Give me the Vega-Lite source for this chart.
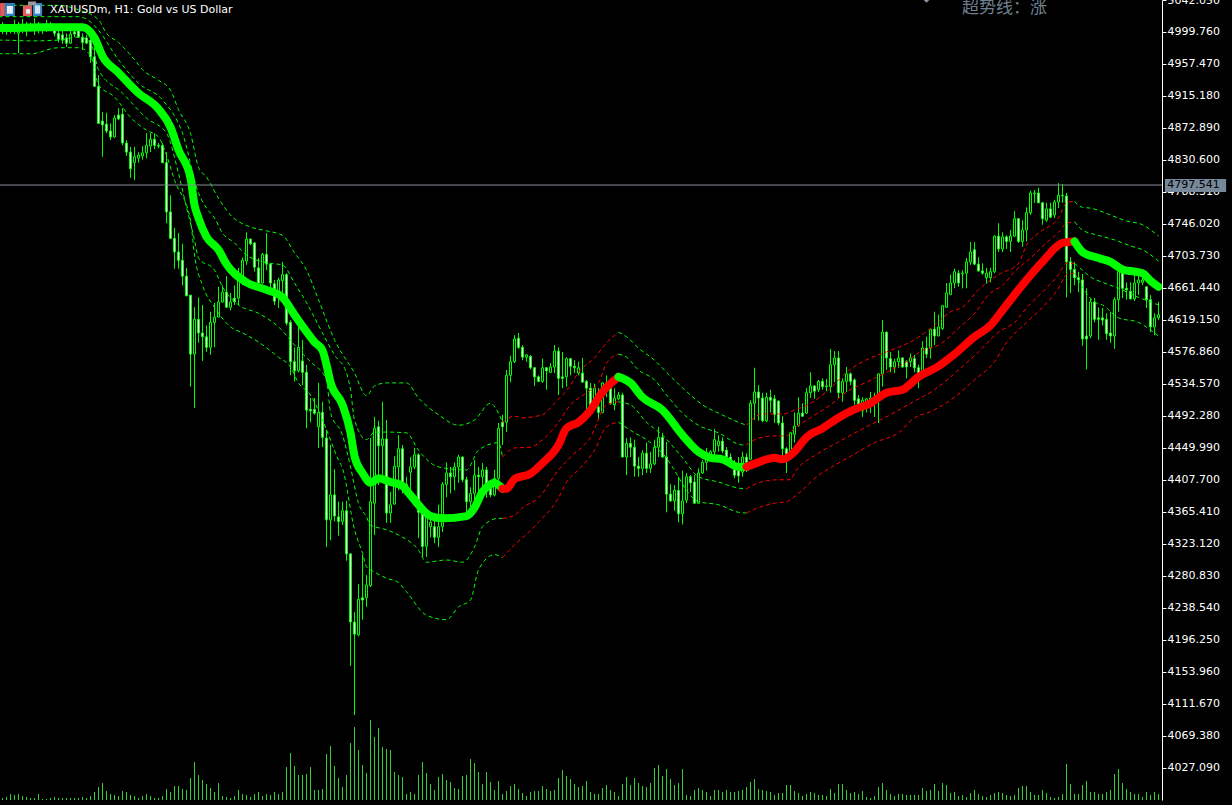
{"$schema":"https://vega.github.io/schema/vega-lite/v6.json","width":1162,"height":800,"autosize":"none","padding":{"left":0,"top":0,"right":70,"bottom":5},"background":"#000000","config":{"view":{"stroke":null},"axis":{"grid":false}},
"datasets":{"candles":[
{"i":0,"o":5002,"h":5013,"l":4997,"c":5009,"v":6},{"i":1,"o":5008,"h":5010,"l":4996,"c":5001,"v":9},{"i":2,"o":5006,"h":5009,"l":4998,"c":5002,"v":18},{"i":3,"o":5002,"h":5016,"l":4997,"c":5009,"v":15},{"i":4,"o":4998,"h":5013,"l":4972,"c":5005,"v":18},{"i":5,"o":5004,"h":5017,"l":4998,"c":5010,"v":12},{"i":6,"o":5008,"h":5013,"l":4994,"c":5001,"v":9},{"i":7,"o":5006,"h":5012,"l":5000,"c":5002,"v":6},{"i":8,"o":5008,"h":5018,"l":4996,"c":5001,"v":6},{"i":9,"o":5008,"h":5013,"l":4998,"c":5004,"v":18},
{"i":10,"o":5006,"h":5010,"l":4997,"c":5002,"v":3},{"i":11,"o":5009,"h":5016,"l":5000,"c":5002,"v":3},{"i":12,"o":5008,"h":5013,"l":5001,"c":5004,"v":6},{"i":13,"o":5004,"h":5009,"l":4994,"c":4998,"v":9},{"i":14,"o":4998,"h":5005,"l":4986,"c":4990,"v":6},{"i":15,"o":4996,"h":5002,"l":4984,"c":4989,"v":6},{"i":16,"o":4992,"h":4998,"l":4980,"c":4985,"v":6},{"i":17,"o":4985,"h":5002,"l":4984,"c":4997,"v":6},{"i":18,"o":5000,"h":5005,"l":4993,"c":4997,"v":6},{"i":19,"o":5002,"h":5008,"l":4992,"c":4993,"v":6},
{"i":20,"o":4993,"h":4998,"l":4976,"c":4986,"v":9},{"i":21,"o":4992,"h":4996,"l":4984,"c":4985,"v":6},{"i":22,"o":4989,"h":4992,"l":4959,"c":4967,"v":12},{"i":23,"o":4967,"h":4979,"l":4928,"c":4928,"v":24},{"i":24,"o":4928,"h":4943,"l":4879,"c":4879,"v":39},{"i":25,"o":4882,"h":4894,"l":4835,"c":4877,"v":51},{"i":26,"o":4878,"h":4893,"l":4866,"c":4869,"v":27},{"i":27,"o":4869,"h":4879,"l":4857,"c":4861,"v":18},{"i":28,"o":4861,"h":4890,"l":4860,"c":4886,"v":15},{"i":29,"o":4890,"h":4899,"l":4883,"c":4885,"v":12},
{"i":30,"o":4891,"h":4899,"l":4850,"c":4853,"v":27},{"i":31,"o":4853,"h":4857,"l":4836,"c":4841,"v":24},{"i":32,"o":4841,"h":4848,"l":4807,"c":4819,"v":15},{"i":33,"o":4827,"h":4848,"l":4804,"c":4835,"v":12},{"i":34,"o":4833,"h":4841,"l":4827,"c":4837,"v":6},{"i":35,"o":4836,"h":4849,"l":4831,"c":4840,"v":12},{"i":36,"o":4840,"h":4866,"l":4833,"c":4850,"v":18},{"i":37,"o":4849,"h":4866,"l":4841,"c":4858,"v":12},{"i":38,"o":4858,"h":4866,"l":4845,"c":4850,"v":6},{"i":39,"o":4850,"h":4853,"l":4846,"c":4849,"v":6},
{"i":40,"o":4850,"h":4853,"l":4827,"c":4827,"v":12},{"i":41,"o":4827,"h":4841,"l":4747,"c":4762,"v":33},{"i":42,"o":4762,"h":4784,"l":4727,"c":4727,"v":24},{"i":43,"o":4727,"h":4741,"l":4687,"c":4709,"v":42},{"i":44,"o":4709,"h":4734,"l":4687,"c":4698,"v":42},{"i":45,"o":4698,"h":4720,"l":4665,"c":4677,"v":33},{"i":46,"o":4677,"h":4688,"l":4651,"c":4651,"v":30},{"i":47,"o":4652,"h":4652,"l":4531,"c":4574,"v":66},{"i":48,"o":4574,"h":4636,"l":4503,"c":4620,"v":114},{"i":49,"o":4620,"h":4649,"l":4589,"c":4602,"v":75},
{"i":50,"o":4602,"h":4639,"l":4565,"c":4597,"v":60},{"i":51,"o":4597,"h":4612,"l":4577,"c":4583,"v":48},{"i":52,"o":4583,"h":4630,"l":4573,"c":4616,"v":36},{"i":53,"o":4616,"h":4642,"l":4583,"c":4623,"v":24},{"i":54,"o":4623,"h":4663,"l":4623,"c":4643,"v":51},{"i":55,"o":4643,"h":4665,"l":4642,"c":4656,"v":12},{"i":56,"o":4656,"h":4677,"l":4635,"c":4636,"v":9},{"i":57,"o":4636,"h":4655,"l":4632,"c":4643,"v":6},{"i":58,"o":4648,"h":4665,"l":4639,"c":4643,"v":12},{"i":59,"o":4648,"h":4688,"l":4639,"c":4675,"v":30},
{"i":60,"o":4668,"h":4702,"l":4665,"c":4698,"v":18},{"i":61,"o":4697,"h":4735,"l":4692,"c":4726,"v":15},{"i":62,"o":4726,"h":4727,"l":4718,"c":4720,"v":9},{"i":63,"o":4721,"h":4722,"l":4683,"c":4689,"v":18},{"i":64,"o":4688,"h":4701,"l":4667,"c":4668,"v":24},{"i":65,"o":4668,"h":4708,"l":4667,"c":4706,"v":12},{"i":66,"o":4706,"h":4734,"l":4685,"c":4693,"v":18},{"i":67,"o":4693,"h":4694,"l":4655,"c":4668,"v":15},{"i":68,"o":4667,"h":4672,"l":4639,"c":4644,"v":24},{"i":69,"o":4653,"h":4675,"l":4635,"c":4672,"v":18},
{"i":70,"o":4671,"h":4696,"l":4655,"c":4679,"v":24},{"i":71,"o":4679,"h":4681,"l":4612,"c":4615,"v":99},{"i":72,"o":4616,"h":4619,"l":4546,"c":4564,"v":141},{"i":73,"o":4564,"h":4583,"l":4538,"c":4552,"v":102},{"i":74,"o":4552,"h":4610,"l":4550,"c":4583,"v":75},{"i":75,"o":4565,"h":4593,"l":4533,"c":4550,"v":75},{"i":76,"o":4550,"h":4560,"l":4476,"c":4500,"v":78},{"i":77,"o":4501,"h":4516,"l":4484,"c":4499,"v":99},{"i":78,"o":4501,"h":4516,"l":4494,"c":4496,"v":30},{"i":79,"o":4478,"h":4536,"l":4450,"c":4497,"v":30},
{"i":80,"o":4497,"h":4511,"l":4451,"c":4464,"v":33},{"i":81,"o":4463,"h":4474,"l":4319,"c":4355,"v":138},{"i":82,"o":4355,"h":4454,"l":4328,"c":4388,"v":162},{"i":83,"o":4388,"h":4422,"l":4353,"c":4360,"v":102},{"i":84,"o":4359,"h":4379,"l":4334,"c":4353,"v":66},{"i":85,"o":4353,"h":4379,"l":4348,"c":4367,"v":39},{"i":86,"o":4367,"h":4380,"l":4301,"c":4310,"v":75},{"i":87,"o":4310,"h":4311,"l":4162,"c":4220,"v":171},{"i":88,"o":4220,"h":4233,"l":4097,"c":4204,"v":219},{"i":89,"o":4203,"h":4270,"l":4201,"c":4250,"v":150},
{"i":90,"o":4252,"h":4309,"l":4223,"c":4249,"v":105},{"i":91,"o":4252,"h":4282,"l":4240,"c":4269,"v":81},{"i":92,"o":4268,"h":4463,"l":4266,"c":4379,"v":240},{"i":93,"o":4377,"h":4491,"l":4335,"c":4476,"v":189},{"i":94,"o":4478,"h":4486,"l":4401,"c":4453,"v":216},{"i":95,"o":4453,"h":4511,"l":4404,"c":4462,"v":159},{"i":96,"o":4462,"h":4487,"l":4351,"c":4364,"v":153},{"i":97,"o":4364,"h":4392,"l":4351,"c":4375,"v":150},{"i":98,"o":4376,"h":4439,"l":4375,"c":4426,"v":84},{"i":99,"o":4425,"h":4467,"l":4394,"c":4449,"v":75},
{"i":100,"o":4449,"h":4454,"l":4390,"c":4405,"v":69},{"i":101,"o":4402,"h":4412,"l":4388,"c":4398,"v":18},{"i":102,"o":4418,"h":4438,"l":4390,"c":4425,"v":24},{"i":103,"o":4425,"h":4450,"l":4422,"c":4441,"v":18},{"i":104,"o":4441,"h":4443,"l":4331,"c":4365,"v":75},{"i":105,"o":4364,"h":4368,"l":4306,"c":4320,"v":114},{"i":106,"o":4320,"h":4364,"l":4306,"c":4359,"v":81},{"i":107,"o":4346,"h":4359,"l":4332,"c":4352,"v":48},{"i":108,"o":4346,"h":4357,"l":4324,"c":4332,"v":30},{"i":109,"o":4332,"h":4375,"l":4319,"c":4346,"v":69},
{"i":110,"o":4346,"h":4405,"l":4339,"c":4402,"v":78},{"i":111,"o":4402,"h":4431,"l":4385,"c":4417,"v":60},{"i":112,"o":4417,"h":4425,"l":4390,"c":4412,"v":54},{"i":113,"o":4412,"h":4431,"l":4394,"c":4425,"v":36},{"i":114,"o":4425,"h":4441,"l":4404,"c":4438,"v":33},{"i":115,"o":4438,"h":4439,"l":4405,"c":4408,"v":72},{"i":116,"o":4408,"h":4412,"l":4365,"c":4379,"v":75},{"i":117,"o":4379,"h":4398,"l":4365,"c":4390,"v":123},{"i":118,"o":4390,"h":4434,"l":4368,"c":4414,"v":111},{"i":119,"o":4414,"h":4425,"l":4390,"c":4412,"v":84},
{"i":120,"o":4412,"h":4430,"l":4394,"c":4421,"v":48},{"i":121,"o":4421,"h":4425,"l":4384,"c":4398,"v":84},{"i":122,"o":4398,"h":4404,"l":4385,"c":4388,"v":54},{"i":123,"o":4388,"h":4421,"l":4386,"c":4410,"v":30},{"i":124,"o":4410,"h":4483,"l":4404,"c":4476,"v":57},{"i":125,"o":4484,"h":4494,"l":4454,"c":4478,"v":18},{"i":126,"o":4484,"h":4553,"l":4471,"c":4546,"v":27},{"i":127,"o":4546,"h":4572,"l":4537,"c":4564,"v":42},{"i":128,"o":4564,"h":4599,"l":4562,"c":4594,"v":48},{"i":129,"o":4595,"h":4602,"l":4581,"c":4583,"v":33},
{"i":130,"o":4583,"h":4586,"l":4566,"c":4570,"v":21},{"i":131,"o":4570,"h":4574,"l":4564,"c":4573,"v":12},{"i":132,"o":4571,"h":4573,"l":4554,"c":4556,"v":24},{"i":133,"o":4556,"h":4557,"l":4532,"c":4544,"v":27},{"i":134,"o":4544,"h":4546,"l":4537,"c":4538,"v":27},{"i":135,"o":4538,"h":4568,"l":4536,"c":4556,"v":42},{"i":136,"o":4556,"h":4557,"l":4527,"c":4552,"v":33},{"i":137,"o":4550,"h":4562,"l":4549,"c":4557,"v":27},{"i":138,"o":4557,"h":4586,"l":4549,"c":4578,"v":30},{"i":139,"o":4578,"h":4583,"l":4520,"c":4542,"v":66},
{"i":140,"o":4544,"h":4577,"l":4529,"c":4542,"v":90},{"i":141,"o":4544,"h":4570,"l":4531,"c":4568,"v":72},{"i":142,"o":4568,"h":4569,"l":4546,"c":4558,"v":63},{"i":143,"o":4558,"h":4566,"l":4549,"c":4556,"v":48},{"i":144,"o":4549,"h":4564,"l":4546,"c":4556,"v":39},{"i":145,"o":4549,"h":4569,"l":4537,"c":4537,"v":42},{"i":146,"o":4538,"h":4540,"l":4499,"c":4529,"v":57},{"i":147,"o":4529,"h":4536,"l":4500,"c":4507,"v":24},{"i":148,"o":4507,"h":4535,"l":4505,"c":4529,"v":18},{"i":149,"o":4504,"h":4529,"l":4487,"c":4497,"v":18},
{"i":150,"o":4497,"h":4537,"l":4496,"c":4536,"v":36},{"i":151,"o":4536,"h":4546,"l":4517,"c":4527,"v":45},{"i":152,"o":4529,"h":4537,"l":4507,"c":4509,"v":30},{"i":153,"o":4507,"h":4529,"l":4500,"c":4516,"v":24},{"i":154,"o":4515,"h":4524,"l":4513,"c":4520,"v":12},{"i":155,"o":4520,"h":4523,"l":4438,"c":4438,"v":48},{"i":156,"o":4438,"h":4463,"l":4414,"c":4456,"v":69},{"i":157,"o":4456,"h":4464,"l":4438,"c":4451,"v":45},{"i":158,"o":4451,"h":4461,"l":4412,"c":4426,"v":66},{"i":159,"o":4426,"h":4438,"l":4412,"c":4423,"v":51},
{"i":160,"o":4423,"h":4447,"l":4414,"c":4443,"v":42},{"i":161,"o":4443,"h":4457,"l":4417,"c":4423,"v":39},{"i":162,"o":4423,"h":4445,"l":4417,"c":4429,"v":51},{"i":163,"o":4429,"h":4461,"l":4427,"c":4451,"v":96},{"i":164,"o":4451,"h":4478,"l":4438,"c":4464,"v":105},{"i":165,"o":4464,"h":4470,"l":4437,"c":4438,"v":72},{"i":166,"o":4438,"h":4458,"l":4365,"c":4389,"v":93},{"i":167,"o":4389,"h":4402,"l":4379,"c":4380,"v":63},{"i":168,"o":4380,"h":4401,"l":4367,"c":4394,"v":45},{"i":169,"o":4394,"h":4412,"l":4352,"c":4363,"v":51},
{"i":170,"o":4363,"h":4420,"l":4349,"c":4380,"v":93},{"i":171,"o":4381,"h":4417,"l":4377,"c":4412,"v":15},{"i":172,"o":4412,"h":4414,"l":4392,"c":4404,"v":12},{"i":173,"o":4405,"h":4414,"l":4376,"c":4377,"v":30},{"i":174,"o":4377,"h":4423,"l":4376,"c":4417,"v":36},{"i":175,"o":4417,"h":4434,"l":4416,"c":4431,"v":30},{"i":176,"o":4431,"h":4450,"l":4420,"c":4443,"v":24},{"i":177,"o":4441,"h":4447,"l":4437,"c":4445,"v":12},{"i":178,"o":4445,"h":4475,"l":4437,"c":4461,"v":30},{"i":179,"o":4453,"h":4467,"l":4445,"c":4459,"v":30},
{"i":180,"o":4459,"h":4464,"l":4443,"c":4446,"v":24},{"i":181,"o":4447,"h":4451,"l":4434,"c":4438,"v":30},{"i":182,"o":4438,"h":4443,"l":4425,"c":4427,"v":24},{"i":183,"o":4422,"h":4434,"l":4410,"c":4414,"v":24},{"i":184,"o":4420,"h":4438,"l":4404,"c":4413,"v":27},{"i":185,"o":4418,"h":4445,"l":4412,"c":4438,"v":30},{"i":186,"o":4438,"h":4443,"l":4418,"c":4431,"v":39},{"i":187,"o":4435,"h":4513,"l":4434,"c":4509,"v":54},{"i":188,"o":4509,"h":4556,"l":4487,"c":4524,"v":63},{"i":189,"o":4524,"h":4533,"l":4486,"c":4516,"v":33},
{"i":190,"o":4516,"h":4523,"l":4484,"c":4486,"v":30},{"i":191,"o":4486,"h":4523,"l":4484,"c":4517,"v":27},{"i":192,"o":4517,"h":4527,"l":4497,"c":4513,"v":24},{"i":193,"o":4515,"h":4520,"l":4483,"c":4494,"v":15},{"i":194,"o":4512,"h":4513,"l":4480,"c":4483,"v":21},{"i":195,"o":4483,"h":4492,"l":4434,"c":4449,"v":21},{"i":196,"o":4449,"h":4451,"l":4417,"c":4442,"v":45},{"i":197,"o":4437,"h":4471,"l":4434,"c":4470,"v":45},{"i":198,"o":4468,"h":4497,"l":4457,"c":4479,"v":27},{"i":199,"o":4480,"h":4517,"l":4478,"c":4496,"v":21},
{"i":200,"o":4496,"h":4509,"l":4491,"c":4492,"v":12},{"i":201,"o":4496,"h":4529,"l":4495,"c":4523,"v":18},{"i":202,"o":4523,"h":4550,"l":4516,"c":4532,"v":24},{"i":203,"o":4532,"h":4533,"l":4515,"c":4525,"v":21},{"i":204,"o":4527,"h":4540,"l":4524,"c":4538,"v":15},{"i":205,"o":4538,"h":4542,"l":4527,"c":4531,"v":15},{"i":206,"o":4531,"h":4541,"l":4525,"c":4532,"v":12},{"i":207,"o":4531,"h":4581,"l":4523,"c":4560,"v":33},{"i":208,"o":4560,"h":4578,"l":4537,"c":4569,"v":21},{"i":209,"o":4569,"h":4578,"l":4516,"c":4523,"v":48},
{"i":210,"o":4523,"h":4542,"l":4511,"c":4538,"v":48},{"i":211,"o":4538,"h":4557,"l":4524,"c":4548,"v":30},{"i":212,"o":4548,"h":4550,"l":4533,"c":4538,"v":21},{"i":213,"o":4540,"h":4542,"l":4507,"c":4513,"v":24},{"i":214,"o":4515,"h":4520,"l":4500,"c":4508,"v":18},{"i":215,"o":4499,"h":4517,"l":4491,"c":4513,"v":27},{"i":216,"o":4504,"h":4516,"l":4497,"c":4515,"v":9},{"i":217,"o":4507,"h":4524,"l":4496,"c":4516,"v":6},{"i":218,"o":4509,"h":4523,"l":4491,"c":4516,"v":12},{"i":219,"o":4513,"h":4548,"l":4483,"c":4548,"v":39},
{"i":220,"o":4548,"h":4619,"l":4531,"c":4603,"v":51},{"i":221,"o":4603,"h":4604,"l":4553,"c":4569,"v":30},{"i":222,"o":4568,"h":4577,"l":4550,"c":4557,"v":18},{"i":223,"o":4557,"h":4568,"l":4549,"c":4564,"v":12},{"i":224,"o":4564,"h":4579,"l":4556,"c":4569,"v":18},{"i":225,"o":4569,"h":4570,"l":4556,"c":4557,"v":18},{"i":226,"o":4564,"h":4566,"l":4542,"c":4557,"v":15},{"i":227,"o":4564,"h":4575,"l":4557,"c":4569,"v":15},{"i":228,"o":4568,"h":4573,"l":4550,"c":4556,"v":15},{"i":229,"o":4556,"h":4560,"l":4529,"c":4544,"v":15},
{"i":230,"o":4550,"h":4591,"l":4550,"c":4582,"v":36},{"i":231,"o":4582,"h":4597,"l":4569,"c":4574,"v":27},{"i":232,"o":4582,"h":4608,"l":4568,"c":4607,"v":30},{"i":233,"o":4607,"h":4630,"l":4586,"c":4598,"v":48},{"i":234,"o":4598,"h":4626,"l":4598,"c":4610,"v":27},{"i":235,"o":4608,"h":4639,"l":4606,"c":4638,"v":51},{"i":236,"o":4636,"h":4668,"l":4635,"c":4655,"v":45},{"i":237,"o":4653,"h":4679,"l":4652,"c":4668,"v":21},{"i":238,"o":4668,"h":4687,"l":4661,"c":4683,"v":24},{"i":239,"o":4681,"h":4685,"l":4663,"c":4668,"v":12},
{"i":240,"o":4680,"h":4685,"l":4661,"c":4681,"v":15},{"i":241,"o":4681,"h":4701,"l":4661,"c":4696,"v":9},{"i":242,"o":4696,"h":4722,"l":4692,"c":4709,"v":21},{"i":243,"o":4712,"h":4722,"l":4692,"c":4693,"v":30},{"i":244,"o":4693,"h":4702,"l":4683,"c":4684,"v":18},{"i":245,"o":4684,"h":4694,"l":4679,"c":4681,"v":12},{"i":246,"o":4675,"h":4688,"l":4667,"c":4681,"v":9},{"i":247,"o":4675,"h":4688,"l":4669,"c":4683,"v":15},{"i":248,"o":4683,"h":4731,"l":4681,"c":4730,"v":21},{"i":249,"o":4730,"h":4747,"l":4709,"c":4713,"v":24},
{"i":250,"o":4713,"h":4735,"l":4709,"c":4729,"v":21},{"i":251,"o":4729,"h":4731,"l":4713,"c":4723,"v":15},{"i":252,"o":4723,"h":4738,"l":4709,"c":4730,"v":12},{"i":253,"o":4730,"h":4763,"l":4729,"c":4753,"v":15},{"i":254,"o":4753,"h":4754,"l":4721,"c":4723,"v":36},{"i":255,"o":4723,"h":4751,"l":4716,"c":4738,"v":42},{"i":256,"o":4738,"h":4768,"l":4723,"c":4761,"v":42},{"i":257,"o":4761,"h":4790,"l":4758,"c":4787,"v":24},{"i":258,"o":4786,"h":4791,"l":4774,"c":4787,"v":15},{"i":259,"o":4787,"h":4794,"l":4774,"c":4774,"v":15},
{"i":260,"o":4774,"h":4775,"l":4745,"c":4753,"v":30},{"i":261,"o":4751,"h":4774,"l":4749,"c":4766,"v":21},{"i":262,"o":4766,"h":4774,"l":4754,"c":4755,"v":9},{"i":263,"o":4758,"h":4778,"l":4754,"c":4775,"v":6},{"i":264,"o":4775,"h":4800,"l":4767,"c":4784,"v":9},{"i":265,"o":4783,"h":4799,"l":4774,"c":4784,"v":18},{"i":266,"o":4783,"h":4787,"l":4649,"c":4696,"v":108},{"i":267,"o":4696,"h":4702,"l":4655,"c":4686,"v":48},{"i":268,"o":4686,"h":4696,"l":4665,"c":4675,"v":18},{"i":269,"o":4675,"h":4683,"l":4656,"c":4672,"v":18},
{"i":270,"o":4672,"h":4680,"l":4585,"c":4594,"v":45},{"i":271,"o":4598,"h":4661,"l":4554,"c":4594,"v":57},{"i":272,"o":4598,"h":4648,"l":4595,"c":4643,"v":24},{"i":273,"o":4643,"h":4648,"l":4616,"c":4620,"v":24},{"i":274,"o":4622,"h":4636,"l":4593,"c":4620,"v":18},{"i":275,"o":4622,"h":4635,"l":4612,"c":4619,"v":18},{"i":276,"o":4620,"h":4628,"l":4593,"c":4601,"v":24},{"i":277,"o":4602,"h":4630,"l":4589,"c":4598,"v":30},{"i":278,"o":4598,"h":4649,"l":4581,"c":4646,"v":78},{"i":279,"o":4646,"h":4692,"l":4630,"c":4683,"v":93},
{"i":280,"o":4683,"h":4685,"l":4648,"c":4661,"v":51},{"i":281,"o":4661,"h":4669,"l":4646,"c":4659,"v":33},{"i":282,"o":4657,"h":4669,"l":4646,"c":4647,"v":24},{"i":283,"o":4647,"h":4681,"l":4644,"c":4668,"v":18},{"i":284,"o":4668,"h":4683,"l":4652,"c":4672,"v":18},{"i":285,"o":4669,"h":4679,"l":4665,"c":4672,"v":9},{"i":286,"o":4663,"h":4664,"l":4635,"c":4646,"v":24},{"i":287,"o":4646,"h":4652,"l":4603,"c":4610,"v":15},{"i":288,"o":4610,"h":4628,"l":4599,"c":4622,"v":24},{"i":289,"o":4622,"h":4643,"l":4619,"c":4626,"v":18}
],
"mid":[
{"s":1,"i":-1,"p":5005},{"s":1,"i":0,"p":5005},{"s":1,"i":10,"p":5006},{"s":1,"i":20,"p":5006},{"s":1,"i":23,"p":4992},{"s":1,"i":25,"p":4968},{"s":1,"i":29,"p":4946},{"s":1,"i":34,"p":4919},{"s":1,"i":39,"p":4898},{"s":1,"i":42,"p":4874},{"s":1,"i":44,"p":4844},{"s":1,"i":47,"p":4807},{"s":1,"i":48,"p":4771},{"s":1,"i":49,"p":4754},{"s":1,"i":51,"p":4729},{"s":1,"i":54,"p":4712},{"s":1,"i":56,"p":4693},{"s":1,"i":61,"p":4669},{"s":1,"i":66,"p":4659},{"s":1,"i":70,"p":4649},{"s":1,"i":73,"p":4626},{"s":1,"i":75,"p":4611},{"s":1,"i":78,"p":4590},{"s":1,"i":80,"p":4579},{"s":1,"i":81,"p":4560},{"s":1,"i":82,"p":4537},{"s":1,"i":85,"p":4507},{"s":1,"i":87,"p":4470},{"s":1,"i":88,"p":4439},{"s":1,"i":90,"p":4417},{"s":1,"i":92,"p":4404},{"s":1,"i":94,"p":4410},{"s":1,"i":97,"p":4405},{"s":1,"i":100,"p":4400},{"s":1,"i":101,"p":4394},{"s":1,"i":103,"p":4381},{"s":1,"i":107,"p":4360},{"s":1,"i":110,"p":4357},{"s":1,"i":116,"p":4360},{"s":1,"i":118,"p":4371},{"s":1,"i":120,"p":4392},{"s":1,"i":122,"p":4402},{"s":1,"i":123,"p":4404},{"s":1,"i":124,"p":4401},{"s":1,"i":125,"p":4396},
{"s":2,"i":125,"p":4396},{"s":2,"i":126,"p":4396},{"s":2,"i":128,"p":4409},{"s":2,"i":132,"p":4416},{"s":2,"i":135,"p":4430},{"s":2,"i":139,"p":4454},{"s":2,"i":141,"p":4476},{"s":2,"i":144,"p":4484},{"s":2,"i":147,"p":4500},{"s":2,"i":150,"p":4524},{"s":2,"i":154,"p":4544},
{"s":3,"i":154,"p":4544},{"s":3,"i":157,"p":4536},{"s":3,"i":160,"p":4517},{"s":3,"i":165,"p":4500},{"s":3,"i":170,"p":4467},{"s":3,"i":174,"p":4445},{"s":3,"i":177,"p":4437},{"s":3,"i":180,"p":4435},{"s":3,"i":184,"p":4425},{"s":3,"i":186,"p":4425},
{"s":4,"i":186,"p":4425},{"s":4,"i":189,"p":4431},{"s":4,"i":193,"p":4437},{"s":4,"i":195,"p":4435},{"s":4,"i":198,"p":4445},{"s":4,"i":200,"p":4458},{"s":4,"i":201,"p":4464},{"s":4,"i":205,"p":4476},{"s":4,"i":209,"p":4490},{"s":4,"i":213,"p":4501},{"s":4,"i":217,"p":4509},{"s":4,"i":221,"p":4523},{"s":4,"i":225,"p":4527},{"s":4,"i":229,"p":4544},{"s":4,"i":234,"p":4558},{"s":4,"i":238,"p":4574},{"s":4,"i":243,"p":4597},{"s":4,"i":247,"p":4612},{"s":4,"i":250,"p":4632},{"s":4,"i":254,"p":4659},{"s":4,"i":260,"p":4696},{"s":4,"i":265,"p":4721},{"s":4,"i":268,"p":4723},
{"s":5,"i":268,"p":4723},{"s":5,"i":270,"p":4709},{"s":5,"i":274,"p":4701},{"s":5,"i":277,"p":4696},{"s":5,"i":280,"p":4686},{"s":5,"i":285,"p":4681},{"s":5,"i":287,"p":4671},{"s":5,"i":289,"p":4663}
],
"bands":[
{"b":"a","s":1,"i":-1,"p":5035},{"b":"a","s":1,"i":0,"p":5035},{"b":"a","s":1,"i":14,"p":5035},{"b":"a","s":1,"i":19,"p":5029},{"b":"a","s":1,"i":24,"p":5016},{"b":"a","s":1,"i":26,"p":4998},{"b":"a","s":1,"i":29,"p":4986},{"b":"a","s":1,"i":33,"p":4963},{"b":"a","s":1,"i":35,"p":4950},{"b":"a","s":1,"i":39,"p":4936},{"b":"a","s":1,"i":42,"p":4923},{"b":"a","s":1,"i":44,"p":4897},{"b":"a","s":1,"i":47,"p":4866},{"b":"a","s":1,"i":49,"p":4821},{"b":"a","s":1,"i":51,"p":4808},{"b":"a","s":1,"i":54,"p":4780},{"b":"a","s":1,"i":57,"p":4758},{"b":"a","s":1,"i":62,"p":4742},{"b":"a","s":1,"i":66,"p":4737},{"b":"a","s":1,"i":70,"p":4731},{"b":"a","s":1,"i":73,"p":4708},{"b":"a","s":1,"i":76,"p":4685},{"b":"a","s":1,"i":79,"p":4646},{"b":"a","s":1,"i":83,"p":4593},{"b":"a","s":1,"i":88,"p":4549},{"b":"a","s":1,"i":91,"p":4519},{"b":"a","s":1,"i":93,"p":4532},{"b":"a","s":1,"i":96,"p":4536},{"b":"a","s":1,"i":101,"p":4536},{"b":"a","s":1,"i":104,"p":4516},{"b":"a","s":1,"i":109,"p":4494},{"b":"a","s":1,"i":114,"p":4480},{"b":"a","s":1,"i":118,"p":4487},{"b":"a","s":1,"i":122,"p":4509},{"b":"a","s":1,"i":124,"p":4496},{"b":"a","s":1,"i":125,"p":4484},
{"b":"a","s":2,"i":125,"p":4484},{"b":"a","s":2,"i":128,"p":4492},{"b":"a","s":2,"i":130,"p":4490},{"b":"a","s":2,"i":135,"p":4494},{"b":"a","s":2,"i":138,"p":4509},{"b":"a","s":2,"i":142,"p":4533},{"b":"a","s":2,"i":144,"p":4550},{"b":"a","s":2,"i":148,"p":4569},{"b":"a","s":2,"i":151,"p":4589},{"b":"a","s":2,"i":154,"p":4603},
{"b":"a","s":3,"i":154,"p":4603},{"b":"a","s":3,"i":156,"p":4597},{"b":"a","s":3,"i":159,"p":4582},{"b":"a","s":3,"i":163,"p":4566},{"b":"a","s":3,"i":166,"p":4550},{"b":"a","s":3,"i":172,"p":4520},{"b":"a","s":3,"i":175,"p":4507},{"b":"a","s":3,"i":179,"p":4496},{"b":"a","s":3,"i":184,"p":4484},{"b":"a","s":3,"i":186,"p":4480},
{"b":"a","s":4,"i":186,"p":4480},{"b":"a","s":4,"i":190,"p":4495},{"b":"a","s":4,"i":195,"p":4495},{"b":"a","s":4,"i":198,"p":4500},{"b":"a","s":4,"i":202,"p":4509},{"b":"a","s":4,"i":207,"p":4529},{"b":"a","s":4,"i":211,"p":4550},{"b":"a","s":4,"i":217,"p":4569},{"b":"a","s":4,"i":221,"p":4577},{"b":"a","s":4,"i":228,"p":4593},{"b":"a","s":4,"i":233,"p":4612},{"b":"a","s":4,"i":237,"p":4630},{"b":"a","s":4,"i":240,"p":4636},{"b":"a","s":4,"i":244,"p":4659},{"b":"a","s":4,"i":249,"p":4679},{"b":"a","s":4,"i":254,"p":4694},{"b":"a","s":4,"i":256,"p":4718},{"b":"a","s":4,"i":259,"p":4734},{"b":"a","s":4,"i":264,"p":4754},{"b":"a","s":4,"i":266,"p":4774},{"b":"a","s":4,"i":268,"p":4776},
{"b":"a","s":5,"i":268,"p":4776},{"b":"a","s":5,"i":270,"p":4768},{"b":"a","s":5,"i":272,"p":4767},{"b":"a","s":5,"i":276,"p":4760},{"b":"a","s":5,"i":281,"p":4750},{"b":"a","s":5,"i":285,"p":4745},{"b":"a","s":5,"i":289,"p":4730},
{"b":"b","s":1,"i":-1,"p":5020},{"b":"b","s":1,"i":0,"p":5020},{"b":"b","s":1,"i":19,"p":5020},{"b":"b","s":1,"i":22,"p":5013},{"b":"b","s":1,"i":24,"p":5002},{"b":"b","s":1,"i":29,"p":4963},{"b":"b","s":1,"i":34,"p":4932},{"b":"b","s":1,"i":40,"p":4910},{"b":"b","s":1,"i":45,"p":4866},{"b":"b","s":1,"i":49,"p":4787},{"b":"b","s":1,"i":51,"p":4767},{"b":"b","s":1,"i":53,"p":4754},{"b":"b","s":1,"i":55,"p":4734},{"b":"b","s":1,"i":58,"p":4721},{"b":"b","s":1,"i":61,"p":4705},{"b":"b","s":1,"i":67,"p":4694},{"b":"b","s":1,"i":70,"p":4692},{"b":"b","s":1,"i":73,"p":4668},{"b":"b","s":1,"i":76,"p":4642},{"b":"b","s":1,"i":79,"p":4612},{"b":"b","s":1,"i":83,"p":4573},{"b":"b","s":1,"i":86,"p":4549},{"b":"b","s":1,"i":87,"p":4527},{"b":"b","s":1,"i":88,"p":4487},{"b":"b","s":1,"i":91,"p":4461},{"b":"b","s":1,"i":93,"p":4471},{"b":"b","s":1,"i":96,"p":4471},{"b":"b","s":1,"i":101,"p":4470},{"b":"b","s":1,"i":104,"p":4447},{"b":"b","s":1,"i":108,"p":4427},{"b":"b","s":1,"i":111,"p":4423},{"b":"b","s":1,"i":116,"p":4421},{"b":"b","s":1,"i":119,"p":4447},{"b":"b","s":1,"i":124,"p":4457},{"b":"b","s":1,"i":125,"p":4438},
{"b":"b","s":2,"i":125,"p":4438},{"b":"b","s":2,"i":128,"p":4450},{"b":"b","s":2,"i":132,"p":4451},{"b":"b","s":2,"i":135,"p":4461},{"b":"b","s":2,"i":139,"p":4484},{"b":"b","s":2,"i":142,"p":4507},{"b":"b","s":2,"i":146,"p":4523},{"b":"b","s":2,"i":149,"p":4536},{"b":"b","s":2,"i":151,"p":4562},{"b":"b","s":2,"i":154,"p":4574},
{"b":"b","s":3,"i":154,"p":4574},{"b":"b","s":3,"i":156,"p":4570},{"b":"b","s":3,"i":159,"p":4553},{"b":"b","s":3,"i":163,"p":4540},{"b":"b","s":3,"i":166,"p":4520},{"b":"b","s":3,"i":170,"p":4496},{"b":"b","s":3,"i":174,"p":4480},{"b":"b","s":3,"i":179,"p":4470},{"b":"b","s":3,"i":185,"p":4454},{"b":"b","s":3,"i":186,"p":4454},
{"b":"b","s":4,"i":186,"p":4454},{"b":"b","s":4,"i":189,"p":4463},{"b":"b","s":4,"i":193,"p":4466},{"b":"b","s":4,"i":196,"p":4466},{"b":"b","s":4,"i":198,"p":4476},{"b":"b","s":4,"i":202,"p":4490},{"b":"b","s":4,"i":207,"p":4507},{"b":"b","s":4,"i":211,"p":4524},{"b":"b","s":4,"i":216,"p":4537},{"b":"b","s":4,"i":221,"p":4550},{"b":"b","s":4,"i":226,"p":4564},{"b":"b","s":4,"i":230,"p":4579},{"b":"b","s":4,"i":234,"p":4586},{"b":"b","s":4,"i":239,"p":4608},{"b":"b","s":4,"i":243,"p":4628},{"b":"b","s":4,"i":247,"p":4655},{"b":"b","s":4,"i":250,"p":4665},{"b":"b","s":4,"i":253,"p":4683},{"b":"b","s":4,"i":257,"p":4701},{"b":"b","s":4,"i":261,"p":4721},{"b":"b","s":4,"i":264,"p":4735},{"b":"b","s":4,"i":266,"p":4747},{"b":"b","s":4,"i":268,"p":4749},
{"b":"b","s":5,"i":268,"p":4749},{"b":"b","s":5,"i":270,"p":4738},{"b":"b","s":5,"i":274,"p":4731},{"b":"b","s":5,"i":278,"p":4725},{"b":"b","s":5,"i":282,"p":4717},{"b":"b","s":5,"i":285,"p":4712},{"b":"b","s":5,"i":289,"p":4697},
{"b":"c","s":1,"i":-1,"p":4989},{"b":"c","s":1,"i":0,"p":4989},{"b":"c","s":1,"i":7,"p":4988},{"b":"c","s":1,"i":14,"p":4989},{"b":"c","s":1,"i":19,"p":4993},{"b":"c","s":1,"i":22,"p":4986},{"b":"c","s":1,"i":24,"p":4950},{"b":"c","s":1,"i":30,"p":4919},{"b":"c","s":1,"i":36,"p":4886},{"b":"c","s":1,"i":41,"p":4866},{"b":"c","s":1,"i":44,"p":4813},{"b":"c","s":1,"i":46,"p":4768},{"b":"c","s":1,"i":48,"p":4725},{"b":"c","s":1,"i":49,"p":4701},{"b":"c","s":1,"i":53,"p":4685},{"b":"c","s":1,"i":55,"p":4663},{"b":"c","s":1,"i":59,"p":4639},{"b":"c","s":1,"i":64,"p":4628},{"b":"c","s":1,"i":69,"p":4610},{"b":"c","s":1,"i":74,"p":4580},{"b":"c","s":1,"i":77,"p":4564},{"b":"c","s":1,"i":81,"p":4540},{"b":"c","s":1,"i":82,"p":4497},{"b":"c","s":1,"i":85,"p":4467},{"b":"c","s":1,"i":87,"p":4425},{"b":"c","s":1,"i":89,"p":4377},{"b":"c","s":1,"i":91,"p":4359},{"b":"c","s":1,"i":92,"p":4348},{"b":"c","s":1,"i":96,"p":4342},{"b":"c","s":1,"i":99,"p":4335},{"b":"c","s":1,"i":104,"p":4315},{"b":"c","s":1,"i":106,"p":4299},{"b":"c","s":1,"i":111,"p":4302},{"b":"c","s":1,"i":115,"p":4299},{"b":"c","s":1,"i":118,"p":4319},{"b":"c","s":1,"i":120,"p":4346},{"b":"c","s":1,"i":124,"p":4357},{"b":"c","s":1,"i":125,"p":4357},
{"b":"c","s":2,"i":125,"p":4357},{"b":"c","s":2,"i":128,"p":4361},{"b":"c","s":2,"i":130,"p":4371},{"b":"c","s":2,"i":134,"p":4384},{"b":"c","s":2,"i":139,"p":4421},{"b":"c","s":2,"i":142,"p":4438},{"b":"c","s":2,"i":147,"p":4464},{"b":"c","s":2,"i":151,"p":4507},{"b":"c","s":2,"i":154,"p":4511},
{"b":"c","s":3,"i":154,"p":4511},{"b":"c","s":3,"i":157,"p":4507},{"b":"c","s":3,"i":161,"p":4484},{"b":"c","s":3,"i":165,"p":4467},{"b":"c","s":3,"i":170,"p":4437},{"b":"c","s":3,"i":174,"p":4412},{"b":"c","s":3,"i":179,"p":4405},{"b":"c","s":3,"i":184,"p":4397},{"b":"c","s":3,"i":186,"p":4396},
{"b":"c","s":4,"i":186,"p":4396},{"b":"c","s":4,"i":189,"p":4404},{"b":"c","s":4,"i":194,"p":4408},{"b":"c","s":4,"i":197,"p":4408},{"b":"c","s":4,"i":198,"p":4417},{"b":"c","s":4,"i":204,"p":4443},{"b":"c","s":4,"i":209,"p":4458},{"b":"c","s":4,"i":216,"p":4478},{"b":"c","s":4,"i":222,"p":4494},{"b":"c","s":4,"i":227,"p":4509},{"b":"c","s":4,"i":233,"p":4527},{"b":"c","s":4,"i":239,"p":4553},{"b":"c","s":4,"i":244,"p":4577},{"b":"c","s":4,"i":249,"p":4603},{"b":"c","s":4,"i":253,"p":4616},{"b":"c","s":4,"i":256,"p":4635},{"b":"c","s":4,"i":260,"p":4656},{"b":"c","s":4,"i":264,"p":4679},{"b":"c","s":4,"i":266,"p":4694},{"b":"c","s":4,"i":268,"p":4694},
{"b":"c","s":5,"i":268,"p":4694},{"b":"c","s":5,"i":270,"p":4685},{"b":"c","s":5,"i":272,"p":4676},{"b":"c","s":5,"i":275,"p":4669},{"b":"c","s":5,"i":279,"p":4661},{"b":"c","s":5,"i":284,"p":4649},{"b":"c","s":5,"i":287,"p":4643},{"b":"c","s":5,"i":289,"p":4639},
{"b":"d","s":1,"i":-1,"p":4971},{"b":"d","s":1,"i":0,"p":4971},{"b":"d","s":1,"i":7,"p":4971},{"b":"d","s":1,"i":14,"p":4979},{"b":"d","s":1,"i":19,"p":4979},{"b":"d","s":1,"i":22,"p":4969},{"b":"d","s":1,"i":24,"p":4930},{"b":"d","s":1,"i":28,"p":4914},{"b":"d","s":1,"i":32,"p":4887},{"b":"d","s":1,"i":36,"p":4870},{"b":"d","s":1,"i":39,"p":4861},{"b":"d","s":1,"i":41,"p":4837},{"b":"d","s":1,"i":43,"p":4804},{"b":"d","s":1,"i":47,"p":4751},{"b":"d","s":1,"i":48,"p":4705},{"b":"d","s":1,"i":50,"p":4665},{"b":"d","s":1,"i":53,"p":4636},{"b":"d","s":1,"i":57,"p":4610},{"b":"d","s":1,"i":60,"p":4602},{"b":"d","s":1,"i":64,"p":4590},{"b":"d","s":1,"i":69,"p":4570},{"b":"d","s":1,"i":72,"p":4557},{"b":"d","s":1,"i":74,"p":4536},{"b":"d","s":1,"i":77,"p":4520},{"b":"d","s":1,"i":81,"p":4474},{"b":"d","s":1,"i":84,"p":4434},{"b":"d","s":1,"i":85,"p":4423},{"b":"d","s":1,"i":88,"p":4342},{"b":"d","s":1,"i":90,"p":4311},{"b":"d","s":1,"i":91,"p":4293},{"b":"d","s":1,"i":93,"p":4286},{"b":"d","s":1,"i":96,"p":4278},{"b":"d","s":1,"i":99,"p":4272},{"b":"d","s":1,"i":101,"p":4260},{"b":"d","s":1,"i":106,"p":4229},{"b":"d","s":1,"i":111,"p":4223},{"b":"d","s":1,"i":114,"p":4240},{"b":"d","s":1,"i":117,"p":4249},{"b":"d","s":1,"i":119,"p":4289},{"b":"d","s":1,"i":123,"p":4309},{"b":"d","s":1,"i":125,"p":4305},
{"b":"d","s":2,"i":125,"p":4305},{"b":"d","s":2,"i":128,"p":4322},{"b":"d","s":2,"i":131,"p":4336},{"b":"d","s":2,"i":134,"p":4352},{"b":"d","s":2,"i":139,"p":4384},{"b":"d","s":2,"i":141,"p":4405},{"b":"d","s":2,"i":144,"p":4421},{"b":"d","s":2,"i":148,"p":4447},{"b":"d","s":2,"i":151,"p":4478},{"b":"d","s":2,"i":154,"p":4484},
{"b":"d","s":3,"i":154,"p":4484},{"b":"d","s":3,"i":158,"p":4470},{"b":"d","s":3,"i":161,"p":4461},{"b":"d","s":3,"i":165,"p":4443},{"b":"d","s":3,"i":174,"p":4379},{"b":"d","s":3,"i":179,"p":4375},{"b":"d","s":3,"i":184,"p":4365},{"b":"d","s":3,"i":186,"p":4364},
{"b":"d","s":4,"i":186,"p":4364},{"b":"d","s":4,"i":188,"p":4369},{"b":"d","s":4,"i":193,"p":4377},{"b":"d","s":4,"i":196,"p":4379},{"b":"d","s":4,"i":199,"p":4390},{"b":"d","s":4,"i":204,"p":4414},{"b":"d","s":4,"i":208,"p":4427},{"b":"d","s":4,"i":213,"p":4442},{"b":"d","s":4,"i":218,"p":4457},{"b":"d","s":4,"i":224,"p":4470},{"b":"d","s":4,"i":228,"p":4490},{"b":"d","s":4,"i":232,"p":4498},{"b":"d","s":4,"i":238,"p":4517},{"b":"d","s":4,"i":243,"p":4540},{"b":"d","s":4,"i":248,"p":4564},{"b":"d","s":4,"i":251,"p":4589},{"b":"d","s":4,"i":256,"p":4616},{"b":"d","s":4,"i":260,"p":4636},{"b":"d","s":4,"i":264,"p":4661},{"b":"d","s":4,"i":266,"p":4679},{"b":"d","s":4,"i":268,"p":4681},
{"b":"d","s":5,"i":268,"p":4681},{"b":"d","s":5,"i":273,"p":4643},{"b":"d","s":5,"i":275,"p":4639},{"b":"d","s":5,"i":279,"p":4622},{"b":"d","s":5,"i":284,"p":4616},{"b":"d","s":5,"i":287,"p":4606},{"b":"d","s":5,"i":289,"p":4598}
],
"icons":[
{"part":"flag blue","i":0.6,"i2":3.1,"p":5038,"p2":5021},{"part":"flag white","i":1.1,"i2":2.6,"p":5034,"p2":5024},{"part":"flag red","i":-0.6,"i2":0.6,"p":5038,"p2":5021},
{"part":"disk red","i":5.1,"i2":7.4,"p":5035,"p2":5021},{"part":"flag white","i":5.9,"i2":6.9,"p":5030,"p2":5024},
{"part":"disk blue","i":7.6,"i2":9.9,"p":5038,"p2":5021},{"part":"disk light","i":8.1,"i2":9.4,"p":5035,"p2":5024},{"part":"disk gray","i":6.4,"i2":8.4,"p":5040,"p2":5035}
]},
"layer":[
{"data":{"name":"candles"},"mark":{"type":"rule","color":"#32d032","strokeWidth":1},"encoding":{"x":{"field":"i","type":"quantitative","scale":{"domain":[-0.625,289.875],"nice":false,"zero":false,"padding":0},"axis":{"orient":"bottom","title":null,"labels":false,"values":[29,61,93,125,157,189,221,253,285],"tickCount":20,"domainColor":"#ffffff","tickColor":"#ffffff","tickSize":5,"grid":false}},"y":{"field":"v","type":"quantitative","scale":{"domain":[0,2400],"nice":false},"axis":null},"y2":{"datum":0}}},
{"layer":[
{"data":{"name":"candles"},"mark":{"type":"rule","color":"#00ff00","strokeWidth":1},"encoding":{"x":{"field":"i","type":"quantitative","axis":null},"y":{"field":"h","type":"quantitative","scale":{"domain":[3984.76,5042.05],"nice":false,"zero":false},"axis":{"orient":"right","title":null,"values":[5042.05,4999.76,4957.47,4915.18,4872.89,4830.6,4788.31,4746.02,4703.73,4661.44,4619.15,4576.86,4534.57,4492.28,4449.99,4407.7,4365.41,4323.12,4280.83,4238.54,4196.25,4153.96,4111.67,4069.38,4027.09],"tickCount":30,"format":".3f","domainColor":"#ffffff","tickColor":"#ffffff","tickSize":4,"labelColor":"#ffffff","labelFont":"DejaVu Sans","labelFontSize":11,"labelPadding":1,"grid":false,"labelOverlap":false}},"y2":{"field":"l"}}},
{"data":{"name":"candles"},"mark":{"type":"bar","size":2,"stroke":"#00ff00","strokeWidth":1},"encoding":{"x":{"field":"i","type":"quantitative"},"y":{"field":"o","type":"quantitative"},"y2":{"field":"c"},"fill":{"condition":{"test":"datum.o>datum.c","value":"#ffffff"},"value":"#000000"}}},
{"data":{"name":"bands"},"mark":{"type":"line","strokeWidth":1,"strokeDash":[4,3],"interpolate":"monotone","clip":true},"encoding":{"x":{"field":"i","type":"quantitative"},"y":{"field":"p","type":"quantitative"},"detail":{"field":"b"},"color":{"field":"s","type":"nominal","legend":null,"scale":{"domain":[1,2,3,4,5],"range":["#00ff00","#ff0000","#00ff00","#ff0000","#00ff00"]}}}},
{"data":{"name":"mid"},"mark":{"type":"line","strokeWidth":8,"strokeCap":"round","strokeJoin":"round","interpolate":"monotone","clip":true},"encoding":{"x":{"field":"i","type":"quantitative"},"y":{"field":"p","type":"quantitative"},"color":{"field":"s","type":"nominal","legend":null}}},
{"data":{"values":[{"p":4797.541}]},"mark":{"type":"rule","color":"#858d97","strokeWidth":1},"encoding":{"y":{"field":"p","type":"quantitative"}}},
{"data":{"values":[{"i":290.6,"i2":305.9,"p":4805.4,"p2":4788.3}]},"mark":{"type":"rect","color":"#77889a","clip":false},"encoding":{"x":{"field":"i","type":"quantitative"},"x2":{"field":"i2"},"y":{"field":"p","type":"quantitative"},"y2":{"field":"p2"}}},
{"data":{"values":[{"i":291.2,"p":4797.541,"t":"4797.541"}]},"mark":{"type":"text","align":"left","baseline":"middle","font":"DejaVu Sans","fontSize":11,"color":"#000000"},"encoding":{"x":{"field":"i","type":"quantitative"},"y":{"field":"p","type":"quantitative"},"text":{"field":"t"}}},
{"data":{"values":[{"i":11.9,"p":5029,"t":"XAUUSDm, H1:  Gold vs US Dollar"}]},"mark":{"type":"text","align":"left","baseline":"middle","font":"DejaVu Sans","fontSize":11,"color":"#ffffff"},"encoding":{"x":{"field":"i","type":"quantitative"},"y":{"field":"p","type":"quantitative"},"text":{"field":"t"}}},
{"data":{"values":[{"i":239.9,"p":5031,"t":"超势线：涨"}]},"mark":{"type":"text","align":"left","baseline":"middle","font":"Noto Sans CJK SC","fontSize":17,"color":"#708090"},"encoding":{"x":{"field":"i","type":"quantitative"},"y":{"field":"p","type":"quantitative"},"text":{"field":"t"}}},
{"data":{"values":[{"i":231,"p":5042}]},"mark":{"type":"point","shape":"diamond","filled":true,"size":30,"color":"#8899aa","opacity":1},"encoding":{"x":{"field":"i","type":"quantitative"},"y":{"field":"p","type":"quantitative"}}},
{"data":{"name":"icons"},"mark":{"type":"rect"},"encoding":{"x":{"field":"i","type":"quantitative"},"x2":{"field":"i2"},"y":{"field":"p","type":"quantitative"},"y2":{"field":"p2"},"fill":{"field":"part","type":"nominal","legend":null,"scale":{"domain":["flag blue","flag white","flag red","disk red","disk blue","disk light","disk gray"],"range":["#2f7fc0","#e8eef4","#e05a5a","#e06060","#3a86c8","#cfe4f5","#999999"]}}}}
]}
],
"resolve":{"scale":{"y":"independent"},"axis":{"y":"independent"}}}
